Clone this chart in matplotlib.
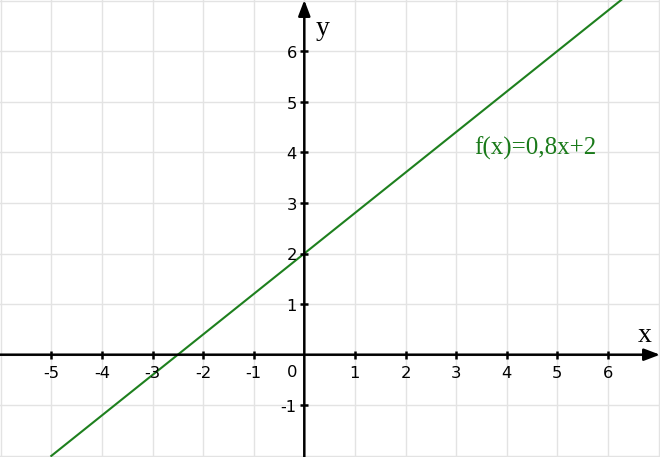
import matplotlib
matplotlib.use("Agg")
import matplotlib.pyplot as plt

# data
line_x = [-5.0, 6.5]
line_y = [-2.0, 7.2]
x_ticks = [-5, -4, -3, -2, -1, 1, 2, 3, 4, 5, 6]
y_ticks = [-1, 1, 2, 3, 4, 5, 6]
grid_x = list(range(-6, 8))
grid_y = list(range(-2, 8))
func_label = "f(x)=0,8x+2"

PX = 50.6  # pixels per unit
fig = plt.figure(figsize=(6.6, 4.57), dpi=100)
ax = fig.add_axes([0, 0, 1, 1])
ax.set_xlim(-304.3 / PX, (660 - 304.3) / PX)
ax.set_ylim(-(457 - 354.7) / PX, 354.7 / PX)
ax.axis("off")

def px(d):
    return d / PX

# grid
for gx in grid_x:
    ax.axvline(gx, color="#e3e3e3", lw=1.0, zorder=0)
for gy in grid_y:
    ax.axhline(gy, color="#e3e3e3", lw=1.0, zorder=0)

xmin, xmax = ax.get_xlim()
ymin, ymax = ax.get_ylim()

# axes with arrows
ax.annotate("", xy=(xmax, 0), xytext=(xmin, 0),
            arrowprops=dict(arrowstyle="-|>,head_length=0.95,head_width=0.36",
                            mutation_scale=10, lw=1.8, color="black",
                            shrinkA=0, shrinkB=0), zorder=3)
ax.annotate("", xy=(0, ymax), xytext=(0, ymin),
            arrowprops=dict(arrowstyle="-|>,head_length=0.95,head_width=0.36",
                            mutation_scale=10, lw=1.8, color="black",
                            shrinkA=0, shrinkB=0), zorder=3)

# tick marks
for t in x_ticks:
    ax.plot([t, t], [-px(4), px(4)], color="black", lw=1.8, zorder=3,
            solid_capstyle="butt")
for t in y_ticks:
    ax.plot([-px(4), px(4)], [t, t], color="black", lw=1.8, zorder=3,
            solid_capstyle="butt")

tick_font = dict(family="DejaVu Sans", fontsize=11.8, color="black")
for t in x_ticks:
    ax.text(t, -px(23.6), str(t), ha="center", va="baseline", **tick_font)
for t in y_ticks:
    ax.text(-px(7.5), t - px(7), str(t), ha="right", va="baseline",
            **tick_font)
ax.text(-px(6.5), -px(22), "0", ha="right", va="baseline", **tick_font)

# function line
ax.plot(line_x, line_y, color="#1e801e", lw=1.5, zorder=2)

serif = ["Liberation Serif", "DejaVu Serif"]
ax.text(px(316 - 304.3), px(354.7 - 35), "y", family=serif, fontsize=20,
        ha="left", va="baseline", color="black")
ax.text(px(638 - 304.3), px(354.7 - 341.7), "x", family=serif, fontsize=20,
        ha="left", va="baseline", color="black")
ax.text(px(474 - 304.3), px(354.7 - 155), func_label, family=serif,
        fontsize=18, ha="left", va="baseline", color="#1a7a1a")

fig.savefig("out.png", dpi=100)
